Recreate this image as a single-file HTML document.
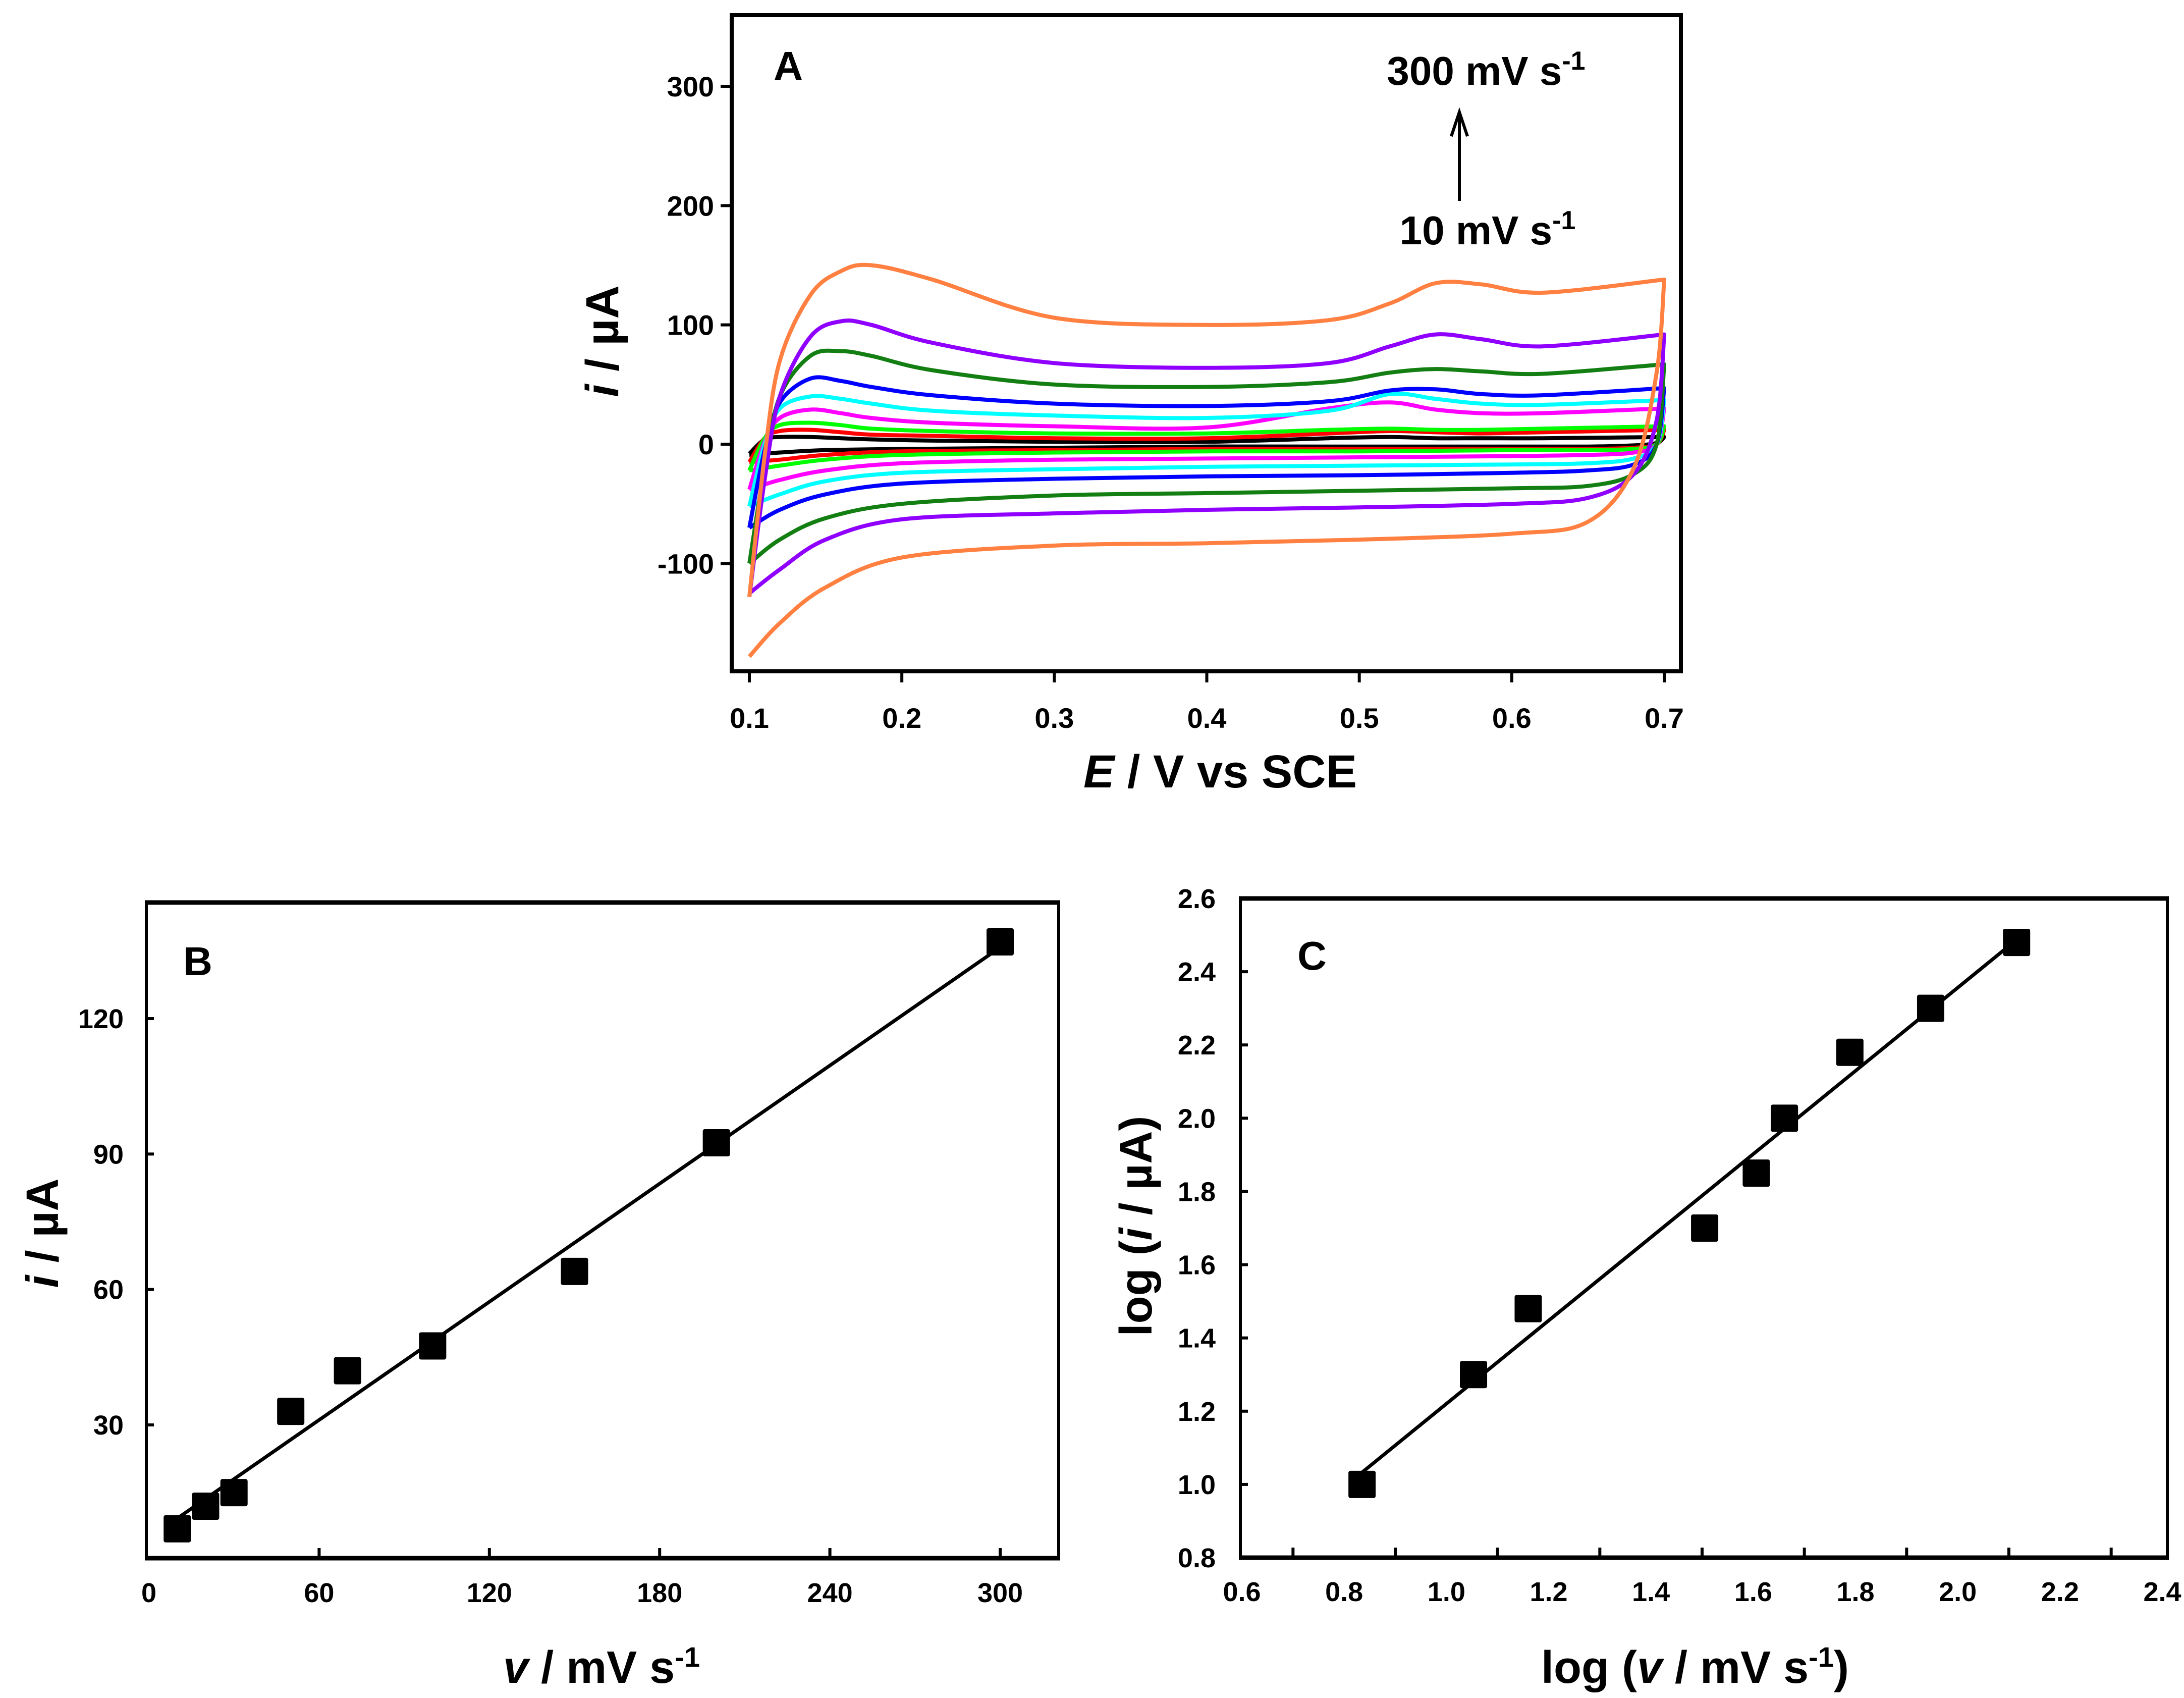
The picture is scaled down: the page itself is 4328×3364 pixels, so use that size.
<!DOCTYPE html>
<html><head><meta charset="utf-8"><style>
html,body{margin:0;padding:0;background:#fff;}
svg{display:block;font-family:"Liberation Sans",Arial,sans-serif;font-weight:bold;}
</style></head><body>
<svg id="fig" width="4328" height="3364" viewBox="0 0 4328 3364" xmlns="http://www.w3.org/2000/svg">
<rect x="0" y="0" width="4328" height="3364" fill="#fff"/>
<g id="pA"></g>
<g id="pB"></g>
<g id="pC"></g>
</svg>
<script>
// ---------- Panel A data ----------
const cvUpperE = [0.1,0.11,0.12,0.14,0.16,0.18,0.22,0.3,0.4,0.48,0.52,0.55,0.58,0.62,0.7];
const cvLowerE = [0.7,0.695,0.68,0.65,0.6,0.5,0.4,0.3,0.2,0.15,0.12,0.1];
const cvRates = [10,20,30,50,70,100,150,200,300];
const cvColors = ["#000000","#ff0000","#00ff00","#ff00ff","#00ffff","#0000ff","#137f13","#8f00ff","#ff8040"];
const cvUp10  = [-8,4,6,6,5,4,3,2,2,5,6,5,5,5,6];
const cvLo10  = [6,1,-1,-2,-2,-2,-2,-3,-4,-5,-7,-9];
const cvUp20  = [-15,5,11,12,10,8,7,5,5,9,11,10,9,10,12];
const cvLo20  = [12,0,-3,-4,-4,-4,-4,-5,-6,-9,-13,-15];
const cvUp30  = [-22,5,16,18,16,13,11,9,9,12,13,12,12,13,15];
const cvLo30  = [15,0,-4,-5,-5,-6,-6,-7,-9,-13,-18,-22];
const cvUp50  = [-38,2,22,29,26,22,18,15,14,30,35,29,26,26,30];
const cvLo50  = [30,0,-7,-9,-10,-11,-12,-13,-16,-22,-30,-38];
const cvUp70  = [-52,0,30,40,38,34,28,24,22,28,42,38,34,33,37];
const cvLo70  = [37,0,-12,-16,-17,-18,-19,-21,-24,-31,-42,-52];
const cvUp100 = [-70,-5,35,55,53,48,41,34,32,36,45,46,42,41,47];
const cvLo100 = [47,0,-17,-22,-24,-26,-27,-29,-33,-42,-55,-70];
const cvUp150 = [-100,-20,40,74,78,74,62,50,48,52,60,63,61,59,67];
const cvLo150 = [67,0,-25,-35,-37,-39,-41,-43,-50,-62,-80,-100];
const cvUp200 = [-128,-30,40,90,103,100,85,68,64,68,82,92,88,82,92];
const cvLo200 = [92,20,-25,-45,-50,-53,-55,-58,-63,-80,-105,-125];
const cvUp300 = [-128,-10,70,125,145,150,138,106,100,104,118,135,134,127,138];
const cvLo300 = [138,60,-20,-65,-75,-80,-83,-85,-95,-120,-150,-178];
const cvUpper = [cvUp10,cvUp20,cvUp30,cvUp50,cvUp70,cvUp100,cvUp150,cvUp200,cvUp300];
const cvLower = [cvLo10,cvLo20,cvLo30,cvLo50,cvLo70,cvLo100,cvLo150,cvLo200,cvLo300];
const aXTicks = [0.1,0.2,0.3,0.4,0.5,0.6,0.7];
const aXLabels = ["0.1","0.2","0.3","0.4","0.5","0.6","0.7"];
const aYTicks = [-100,0,100,200,300];
const aYLabels = ["-100","0","100","200","300"];
// ---------- Panel B data ----------
const bRates = [10,20,30,50,70,100,150,200,300];
const bCurrents = [7,12,15,33,42,47.5,64,92.5,137];
const bXTicks = [0,60,120,180,240,300];
const bXLabels = ["0","60","120","180","240","300"];
const bYTicks = [30,60,90,120];
const bYLabels = ["30","60","90","120"];
// ---------- Panel C data ----------
const cLogRate = [0.835,1.053,1.16,1.505,1.606,1.661,1.789,1.947,2.115];
const cLogCurrent = [1.0,1.3,1.48,1.7,1.85,2.0,2.18,2.3,2.48];
const cXLabelVals = [0.6,0.8,1.0,1.2,1.4,1.6,1.8,2.0,2.2,2.4];
const cXLabels = ["0.6","0.8","1.0","1.2","1.4","1.6","1.8","2.0","2.2","2.4"];
const cXTicks = [0.7,0.9,1.1,1.3,1.5,1.7,1.9,2.1,2.3];
const cYTicks = [0.8,1.0,1.2,1.4,1.6,1.8,2.0,2.2,2.4,2.6];
const cYLabels = ["0.8","1.0","1.2","1.4","1.6","1.8","2.0","2.2","2.4","2.6"];

const NS="http://www.w3.org/2000/svg";
function mk(parent,tag,attrs){const e=document.createElementNS(NS,tag);for(const k in attrs)e.setAttribute(k,attrs[k]);parent.appendChild(e);return e;}
function lin(d0,d1,r0,r1){return v=>r0+(v-d0)*(r1-r0)/(d1-d0);}
function smooth(pts){let d="M"+pts[0][0].toFixed(1)+","+pts[0][1].toFixed(1);
 for(let i=0;i<pts.length-1;i++){const p0=pts[Math.max(0,i-1)],p1=pts[i],p2=pts[i+1],p3=pts[Math.min(pts.length-1,i+2)];
  const c1=[p1[0]+(p2[0]-p0[0])/6,p1[1]+(p2[1]-p0[1])/6],c2=[p2[0]-(p3[0]-p1[0])/6,p2[1]-(p3[1]-p1[1])/6];
  d+="C"+c1[0].toFixed(1)+","+c1[1].toFixed(1)+" "+c2[0].toFixed(1)+","+c2[1].toFixed(1)+" "+p2[0].toFixed(1)+","+p2[1].toFixed(1);}
 return d;}
function txt(parent,x,y,s,size,anchor){const t=mk(parent,"text",{x:x,y:y,"font-size":size,"text-anchor":anchor||"middle"});t.textContent=s;return t;}
function regress(xs,ys){const n=xs.length;let sx=0,sy=0,sxx=0,sxy=0;for(let i=0;i<n;i++){sx+=xs[i];sy+=ys[i];sxx+=xs[i]*xs[i];sxy+=xs[i]*ys[i];}
 const m=(n*sxy-sx*sy)/(n*sxx-sx*sx);return [m,(sy-m*sx)/n];}
function frame(g,x0,y0,x1,y1,tb,lr,name){
 const f=mk(g,"g",{});
 mk(f,"line",{x1:x0-lr/2,y1:y0,x2:x1+lr/2,y2:y0,stroke:"#000","stroke-width":tb});
 mk(f,"line",{x1:x0-lr/2,y1:y1,x2:x1+lr/2,y2:y1,stroke:"#000","stroke-width":tb});
 mk(f,"line",{x1:x0,y1:y0,x2:x0,y2:y1,stroke:"#000","stroke-width":lr});
 mk(f,"line",{x1:x1,y1:y0,x2:x1,y2:y1,stroke:"#000","stroke-width":lr});}

// ================= Panel A =================
(function(){
 const g=document.getElementById("pA");
 const X=lin(0.1,0.7,1485,3298), Y=lin(0,300,880,171);
 const L=1450,R=3331,T=30,B=1330;
 const curves=mk(g,"g",{});
 
 
 for(let c=0;c<cvRates.length;c++){
  const up=cvUpperE.map((e,i)=>[X(e),Y(cvUpper[c][i])]);
  const lo=cvLowerE.map((e,i)=>[X(e),Y(cvLower[c][i])]);
  const p=mk(curves,"path",{d:smooth(up)+" "+smooth(lo).replace("M","L"),fill:"none",stroke:cvColors[c],"stroke-width":8,"stroke-linejoin":"round"});
  
  
 }
 frame(g,L,T,R,B,8,8,"panel-a-frame");
 const ax=mk(g,"g",{});
 
 
 aXTicks.forEach((v,i)=>{mk(ax,"line",{x1:X(v),y1:B,x2:X(v),y2:B+22,stroke:"#000","stroke-width":6});
  const t=txt(ax,X(v),B+112,aXLabels[i],56);});
 const ay=mk(g,"g",{});
 
 
 aYTicks.forEach((v,i)=>{mk(ay,"line",{x1:L,y1:Y(v),x2:L-22,y2:Y(v),stroke:"#000","stroke-width":6});
  const t=txt(ay,1415,Y(v)+20,aYLabels[i],56,"end");});
 const xt=mk(g,"text",{x:2418,y:1560,"font-size":92,"text-anchor":"middle"});
 xt.innerHTML='<tspan font-style="italic">E</tspan> / V vs SCE';
 
 const yt=mk(g,"text",{x:0,y:0,"font-size":92,"text-anchor":"middle",transform:"translate(1225,676) rotate(-90)"});
 yt.innerHTML='<tspan font-style="italic">i</tspan> / µA';
 
 const la=txt(g,1562,158,"A",80);
 const t1=mk(g,"text",{x:2945,y:168,"font-size":80,"text-anchor":"middle"});
 t1.innerHTML='300 mV s<tspan dy="-30" font-size="52">-1</tspan>';
 
 const t2=mk(g,"text",{x:2948,y:484,"font-size":80,"text-anchor":"middle"});
 t2.innerHTML='10 mV s<tspan dy="-30" font-size="52">-1</tspan>';
 
 const ar=mk(g,"g",{});
 
 mk(ar,"line",{x1:2892,y1:398,x2:2892,y2:226,stroke:"#000","stroke-width":6});
 mk(ar,"path",{d:"M2876,270 L2892,222 L2908,270",fill:"none",stroke:"#000","stroke-width":6});
})();

// ================= Panel B =================
(function(){
 const g=document.getElementById("pB");
 const L=290,R=2098,T=1788,B=3087;
 const X=lin(0,300,295,1982), Y=lin(30,120,2823,2018);
 const [m,b]=regress(bRates,bCurrents);
 const fl=mk(g,"line",{x1:X(bRates[0]),y1:Y(m*bRates[0]+b),x2:X(bRates[bRates.length-1]),y2:Y(m*bRates[bRates.length-1]+b),stroke:"#000","stroke-width":7});
 
 bRates.forEach((v,i)=>{const r=mk(g,"rect",{x:X(v)-27,y:Y(bCurrents[i])-27,width:54,height:54,rx:4,fill:"#000"});
  });
 frame(g,L,T,R,B,9,6,"panel-b-frame");
 bXTicks.forEach((v,i)=>{if(v>0)mk(g,"line",{x1:X(v),y1:B,x2:X(v),y2:B-20,stroke:"#000","stroke-width":6});
  const t=txt(g,X(v),3174,bXLabels[i],54);});
 bYTicks.forEach((v,i)=>{mk(g,"line",{x1:L,y1:Y(v),x2:L+15,y2:Y(v),stroke:"#000","stroke-width":6});
  const t=txt(g,245,Y(v)+19,bYLabels[i],54,"end");});
 const xt=mk(g,"text",{x:1192,y:3334,"font-size":90,"text-anchor":"middle"});
 xt.innerHTML='<tspan font-style="italic">v</tspan> / mV s<tspan dy="-32" font-size="56">-1</tspan>';
 
 const yt=mk(g,"text",{x:0,y:0,"font-size":90,"text-anchor":"middle",transform:"translate(115,2443) rotate(-90)"});
 yt.innerHTML='<tspan font-style="italic">i</tspan> / µA';
 
 const lb=txt(g,392,1932,"B",80);
})();

// ================= Panel C =================
(function(){
 const g=document.getElementById("pC");
 const L=2458,R=4295,T=1780,B=3086;
 const X=lin(0.6,2.4,2461,4285), Y=lin(0.8,2.6,3086,1780);
 const [m,b]=regress(cLogRate,cLogCurrent);
 const x0=cLogRate[0],x1=cLogRate[cLogRate.length-1];
 const fl=mk(g,"line",{x1:X(x0),y1:Y(m*x0+b),x2:X(x1),y2:Y(m*x1+b),stroke:"#000","stroke-width":7});
 
 cLogRate.forEach((v,i)=>{const r=mk(g,"rect",{x:X(v)-27,y:Y(cLogCurrent[i])-27,width:54,height:54,rx:4,fill:"#000"});
  });
 frame(g,L,T,R,B,9,6,"panel-c-frame");
 cXTicks.forEach(v=>{mk(g,"line",{x1:X(v),y1:B,x2:X(v),y2:B-20,stroke:"#000","stroke-width":6});});
 cXLabelVals.forEach((v,i)=>{const t=txt(g,X(v),3172,cXLabels[i],54);});
 cYTicks.forEach((v,i)=>{if(v>0.8&&v<2.6)mk(g,"line",{x1:L,y1:Y(v),x2:L+15,y2:Y(v),stroke:"#000","stroke-width":6});
  const t=txt(g,2409,Y(v)+19,cYLabels[i],54,"end");});
 const xt=mk(g,"text",{x:3359,y:3334,"font-size":90,"text-anchor":"middle"});
 xt.innerHTML='log (<tspan font-style="italic">v</tspan> / mV s<tspan dy="-32" font-size="56">-1</tspan><tspan dy="32">)</tspan>';
 
 const yt=mk(g,"text",{x:0,y:0,"font-size":90,"text-anchor":"middle",transform:"translate(2282,2429) rotate(-90)"});
 yt.innerHTML='log (<tspan font-style="italic">i</tspan> / µA)';
 
 const lc=txt(g,2600,1921,"C",80);
})();
</script>
</body></html>
